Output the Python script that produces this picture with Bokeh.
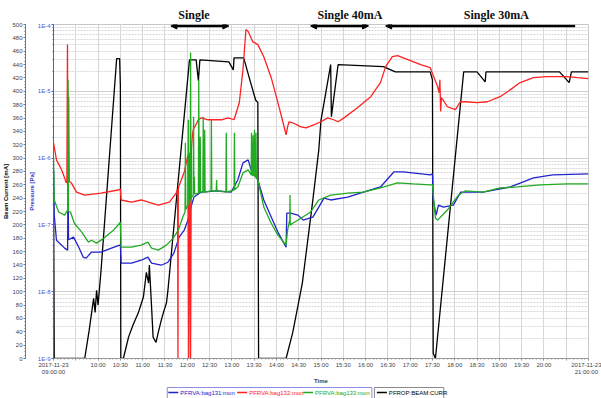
import calendar
from datetime import datetime, timedelta

from bokeh.plotting import figure
from bokeh.layouts import column
from bokeh.models import (LinearAxis, LinearScale, Range1d, FixedTicker, SingleIntervalTicker,
                          CustomJSTickFormatter, Arrow, NormalHead)
from bokeh.core.properties import value
from bokeh.embed import file_html
from bokeh.resources import INLINE

# ---- time window ----
T0 = datetime(2017, 11, 23, 9, 0, 0)
T1 = datetime(2017, 11, 23, 21, 0, 0)

# ---- PFRVA:bag131:mon  (minutes after 09:00, pressure in Pa) ----
bag131_min = [0, 1, 4, 15, 19, 19.6, 20.2, 27, 34, 40, 44, 51, 64, 78, 89, 90, 91, 105, 118, 127,
              132, 145, 154, 162, 169, 176, 181, 185, 189, 199, 221, 239, 248, 255, 262, 266, 275,
              283, 293, 302, 313, 314, 319, 329, 336, 349, 357, 364, 373, 396, 417, 440, 458, 471,
              507, 510, 511, 515, 518, 525, 538, 548, 578, 615, 646, 672, 720]
bag131_pa = [6.65e-7, 1.40e-7, 5.9e-8, 4.49e-8, 4.19e-8, 8.47e-7, 6.0e-8, 6.56e-8, 4.64e-8, 3.29e-8,
             3.18e-8, 3.91e-8, 3.91e-8, 4.49e-8, 4.98e-8, 4.98e-8, 2.67e-8, 2.67e-8, 2.96e-8, 3.29e-8,
             2.67e-8, 2.49e-8, 2.76e-8, 3.78e-8, 6.56e-8, 8.36e-8, 1.18e-7, 1.85e-7, 2.61e-7, 3.1e-7,
             3.22e-7, 3.1e-7, 4.71e-7, 8.47e-7, 9.4e-7, 6.65e-7, 4.71e-7, 2.36e-7, 1.31e-7, 7.8e-8,
             4.64e-8, 1.5e-7, 1.5e-7, 1.4e-7, 1.18e-7, 1.31e-7, 1.85e-7, 2.52e-7, 2.36e-7, 2.61e-7,
             3.1e-7, 3.7e-7, 6.2e-7, 6.2e-7, 5.6e-7, 5.8e-7, 2.36e-7, 1.40e-7, 1.98e-7, 1.85e-7,
             1.98e-7, 3.1e-7, 3.1e-7, 3.7e-7, 5.05e-7, 5.6e-7, 5.8e-7]

# ---- PFRVA:bag132:mon ----
bag132_min = [0, 1, 4, 11, 15, 17, 18, 18.8, 19.6, 20.4, 21.2, 24, 31, 42, 64, 87, 90, 91, 105, 118,
              132, 141, 156, 165, 167, 167.5, 168, 176, 181, 182, 183, 184.5, 185.5, 187, 188, 195,
              199, 208, 226, 235, 243, 250, 255, 259, 262, 268, 275, 283, 293, 302, 309, 313, 315,
              317, 322, 333, 340, 350, 360, 369, 377, 383, 391, 409, 427, 440, 447, 456, 463, 477,
              494, 507, 517, 519, 520, 521, 522, 524, 530, 541, 545, 548, 554, 570, 584, 601, 615,
              628, 646, 664, 691, 705, 720]
bag132_pa = [1.69e-6, 1.47e-6, 9.4e-7, 6.65e-7, 5.05e-7, 4.25e-7, 4.4e-7, 5.0e-5, 4.7e-7, 8.3e-6,
             4.5e-7, 4.25e-7, 3.1e-7, 2.8e-7, 3.0e-7, 3.33e-7, 3.45e-7, 2.36e-7, 2.2e-7, 2.36e-7,
             2.12e-7, 1.98e-7, 2.2e-7, 3.0e-7, 3.4e-7, 1e-9, 3.6e-7, 6.2e-7, 1.12e-6, 1e-9, 1.2e-6,
             1e-9, 1.33e-6, 2.23e-6, 2.65e-6, 3.75e-6, 4.0e-6, 3.75e-6, 3.75e-6, 4.0e-6, 3.75e-6,
             6.75e-6, 2.11e-5, 8.4e-5, 7.85e-5, 5.55e-5, 5.0e-5, 3.3e-5, 1.6e-5, 6.75e-6, 3.38e-6,
             2.23e-6, 2.94e-6, 3.5e-6, 3.38e-6, 2.94e-6, 2.84e-6, 3.15e-6, 3.5e-6, 4.0e-6, 3.75e-6,
             3.5e-6, 4.0e-6, 5.67e-6, 8.3e-6, 1.35e-5, 2.34e-5, 3.3e-5, 3.43e-5, 2.98e-5, 2.5e-5,
             2.26e-5, 1.17e-5, 9.5e-6, 1.49e-5, 5.0e-6, 8.0e-6, 7.5e-6, 5.87e-6, 5.3e-6, 6.3e-6,
             6.98e-6, 6.98e-6, 6.75e-6, 6.98e-6, 8.3e-6, 1.06e-5, 1.35e-5, 1.6e-5, 1.66e-5, 1.66e-5,
             1.6e-5, 1.55e-5]

# ---- PFRVA:bag133:mon ----
bag133_min = [0, 1, 7, 15, 19, 19.6, 20.2, 23, 28, 38, 47, 51, 58, 68, 81, 89, 90, 91, 105, 118, 127,
              132, 141, 152, 161, 168, 174, 177, 177.5, 178, 181, 181.5, 182, 184, 184.5, 185, 188,
              188.5, 189, 189.5, 190, 195, 195.5, 196, 197, 197.5, 198, 201, 201.5, 202, 203, 203.5,
              204, 212, 212.5, 213, 219, 219.5, 220, 232, 232.5, 233, 243, 243.5, 244, 248, 255, 262,
              266, 266.5, 267, 268, 268.5, 269, 270, 270.5, 271, 272, 272.5, 273, 275, 283, 293, 302,
              313, 315, 318, 318.3, 318.6, 322, 333, 346, 357, 373, 396, 417, 440, 463, 484, 507, 510,
              514, 517, 530, 545, 554, 578, 601, 624, 655, 691, 720]
bag133_pa = [1.04e-6, 2.36e-7, 1.56e-7, 1.40e-7, 1.67e-7, 1.49e-5, 1.6e-7, 1.55e-7, 1.06e-7, 7.8e-8,
             5.52e-8, 5.9e-8, 5.33e-8, 6.34e-8, 8.36e-8, 1.06e-7, 1.10e-7, 4.64e-8, 4.64e-8, 4.98e-8,
             5.52e-8, 4.49e-8, 4.19e-8, 4.98e-8, 6.34e-8, 8.36e-8, 1.31e-7, 1.56e-7, 1.69e-6, 1.7e-7,
             1.98e-7, 3.75e-6, 2.1e-7, 2.36e-7, 3.8e-5, 2.5e-7, 2.8e-7, 4.16e-6, 2.9e-7, 5.22e-7,
             2.9e-7, 3.0e-7, 1.49e-5, 3.0e-7, 3.1e-7, 2.08e-6, 3.1e-7, 3.1e-7, 4.16e-6, 3.1e-7, 3.1e-7,
             2.65e-6, 3.1e-7, 3.22e-7, 3.75e-6, 3.22e-7, 3.22e-7, 4.71e-7, 3.22e-7, 3.1e-7, 2.39e-6,
             3.1e-7, 3.33e-7, 2.39e-6, 3.4e-7, 3.7e-7, 6.0e-7, 6.65e-7, 5.6e-7, 2.39e-6, 5.6e-7,
             5.5e-7, 2.2e-6, 5.5e-7, 5.4e-7, 2.65e-6, 5.4e-7, 5.22e-7, 2.39e-6, 5.1e-7, 4.71e-7,
             1.85e-7, 1.06e-7, 7.03e-8, 4.98e-8, 8.36e-8, 1.2e-7, 2.8e-7, 9.9e-8, 1.06e-7, 1.26e-7,
             1.56e-7, 2.36e-7, 2.8e-7, 3.0e-7, 3.1e-7, 3.57e-7, 4.25e-7, 4.1e-7, 3.96e-7, 3.96e-7,
             1.26e-7, 1.18e-7, 1.67e-7, 2.8e-7, 3.22e-7, 3.1e-7, 3.57e-7, 3.7e-7, 3.96e-7, 4.1e-7,
             4.1e-7]

# ---- PFROP:BEAM:CURR (minutes after 09:00, mA) ----
beam_min = [0, 1, 42, 48, 54, 56, 58, 60, 64, 85, 89, 90, 90.6, 94, 101, 107, 114, 121, 125, 128,
            129, 132, 134, 138, 141, 145, 148, 152, 154, 183, 192, 195, 197, 236, 242, 243, 256, 263,
            272, 275, 276, 313, 322, 333, 335, 349, 357, 360, 366, 373, 374, 383, 444, 460, 507, 510,
            511, 514, 552, 570, 581, 582, 681, 694, 697, 720]
beam_ma = [282, 0, 0, 42, 90, 69, 102, 80, 132, 449, 449, 408, 0, 0, 32, 50, 68, 92, 129, 113,
           140, 77, 32, 24, 39, 57, 69, 83, 102, 447, 447, 416, 447, 444, 432, 450, 450, 422,
           387, 383, 0, 0, 39, 102, 114, 237, 312, 357, 395, 440, 362, 440, 437, 429, 429, 417,
           8, 0, 429, 429, 414, 429, 429, 413, 429, 429]

# ---- operation-mode notes above the plot ----
mode_names = ["Single", "Single 40mA", "Single 30mA"]
mode_label_min = [189, 399, 596]
mode_span_start_min = [158, 346, 447]
mode_span_end_min = [236, 424, 702]
mode_end_head = [True, True, False]

# ---- axis ticks ----
time_labels = (["2017-11-23\n09:00:00", ""]
               + ["10:00", "10:30", "11:00", "11:30", "12:00", "12:30", "13:00", "13:30", "14:00",
                  "14:30", "15:00", "15:30", "16:00", "16:30", "17:00", "17:30", "18:00", "18:30",
                  "19:00", "19:30", "20:00"]
               + ["", "2017-11-23\n21:00:00"])
pressure_decades = [1e-9, 1e-8, 1e-7, 1e-6, 1e-5, 1e-4]

# ---- legend entries ----
legend_names = ["PFRVA:bag131:mon", "PFRVA:bag132:mon", "PFRVA:bag133:mon", "PFROP:BEAM:CURR"]


def ms(dt):
    return calendar.timegm(dt.timetuple()) * 1000.0


def stamp(minutes):
    return [ms(T0 + timedelta(minutes=m)) for m in minutes]


BLUE = "#2222cc"
RED = "#ff2222"
GREEN = "#22aa22"
AXIS_BLUE = "#5555cc"
FONT = "Liberation Sans"
SERIF = "Liberation Serif"
W = 601
FRAME_L, FRAME_R = 52, 588

x_range = Range1d(ms(T0), ms(T1))

# ================= main chart =================
p = figure(width=W, height=364, x_axis_type="datetime", y_axis_type="log",
           x_range=x_range, y_range=Range1d(1e-9, 1e-4),
           output_backend="svg", toolbar_location=None,
           min_border_left=FRAME_L, min_border_right=W - FRAME_R, min_border_top=2,
           min_border_bottom=28,
           background_fill_color="white", border_fill_color="white",
           outline_line_color="#c8c8c8")
p.extra_y_ranges = {"mA": Range1d(0, 500)}
p.extra_y_scales = {"mA": LinearScale()}

r_beam = p.line(stamp(beam_min), beam_ma, y_range_name="mA", color="black", line_width=1.3)
r131 = p.line(stamp(bag131_min), bag131_pa, color=BLUE, line_width=1.3)
r132 = p.line(stamp(bag132_min), bag132_pa, color=RED, line_width=1.3)
r133 = p.line(stamp(bag133_min), bag133_pa, color=GREEN, line_width=1.3)

# time axis
x_ticks = [ms(T0 + timedelta(minutes=30 * i)) for i in range(25)]
x_minor = [ms(T0 + timedelta(minutes=5 * i)) for i in range(145)]
x_ticker = FixedTicker(ticks=x_ticks, minor_ticks=x_minor)
xa = p.xaxis[0]
xa.ticker = x_ticker
xa.formatter = CustomJSTickFormatter(
    args=dict(t0=ms(T0), labels=time_labels),
    code="const i = Math.round((tick - t0) / 1800000); const s = labels[i]; return s === undefined ? '' : s;")
xa.axis_label = "Time"
xa.axis_label_text_font = FONT
xa.axis_label_text_font_style = "bold"
xa.axis_label_text_font_size = "6px"
xa.axis_label_standoff = 0
xa.major_label_text_font = FONT
xa.major_label_text_font_size = "6px"
xa.major_label_text_color = "#444444"
xa.major_label_standoff = 1
xa.axis_line_color = "#999999"
xa.major_tick_line_color = "#888888"
xa.minor_tick_line_color = "#999999"
xa.major_tick_out = 2
xa.major_tick_in = 0
xa.minor_tick_out = 1
xa.minor_tick_in = 0

# pressure axis (log, next to the plot)
p_minor = [k * d for d in pressure_decades[:-1] for k in range(2, 10)]
p_ticker = FixedTicker(ticks=pressure_decades, minor_ticks=p_minor)
pa = p.yaxis[0]
pa.ticker = p_ticker
pa.formatter = CustomJSTickFormatter(code="return '1E' + Math.round(Math.log10(tick));")
pa.axis_label = "Pressure [Pa]"
pa.axis_label_text_font = FONT
pa.axis_label_text_font_style = "bold"
pa.axis_label_text_font_size = "6px"
pa.axis_label_text_color = "#3333cc"
pa.axis_label_standoff = 0
pa.major_label_text_font = FONT
pa.major_label_text_font_size = "6px"
pa.major_label_text_color = AXIS_BLUE
pa.major_label_standoff = 1
pa.axis_line_color = AXIS_BLUE
pa.major_tick_line_color = AXIS_BLUE
pa.minor_tick_line_color = AXIS_BLUE
pa.major_tick_out = 2
pa.major_tick_in = 0
pa.minor_tick_out = 1
pa.minor_tick_in = 0

# beam current axis (linear, outer left)
ca = LinearAxis(y_range_name="mA", ticker=SingleIntervalTicker(interval=20, num_minor_ticks=4),
                axis_label="Beam Current [mA]")
ca.axis_label_text_font = FONT
ca.axis_label_text_font_style = "bold"
ca.axis_label_text_font_size = "6px"
ca.axis_label_text_color = "black"
ca.axis_label_standoff = 0
ca.major_label_text_font = FONT
ca.major_label_text_font_size = "6px"
ca.major_label_text_color = "#444444"
ca.major_label_standoff = 1
ca.axis_line_color = "#777777"
ca.major_tick_line_color = "#777777"
ca.minor_tick_line_color = "#777777"
ca.major_tick_out = 2
ca.major_tick_in = 0
ca.minor_tick_out = 1
ca.minor_tick_in = 0
p.add_layout(ca, "left")

# grid
p.xgrid.ticker = x_ticker
p.xgrid.grid_line_color = "#d6d6d6"
p.ygrid.ticker = p_ticker
p.ygrid.grid_line_color = "#cfcfcf"
p.ygrid.minor_grid_line_color = "#d8d8d8"
p.ygrid.minor_grid_line_dash = "2 1"

# mode spans drawn along the top edge of the plot
for ta, tb, with_end in zip(stamp(mode_span_start_min), stamp(mode_span_end_min), mode_end_head):
    p.add_layout(Arrow(x_start=tb, x_end=ta, y_start=9.5e-5, y_end=9.5e-5,
                       line_width=2.5, line_color="black",
                       end=NormalHead(size=6, fill_color="black", line_color="black"),
                       start=NormalHead(size=6, fill_color="black", line_color="black") if with_end else None))

# ================= mode names strip =================
top = figure(width=W, height=22, x_range=x_range, y_range=Range1d(0, 22),
             x_axis_type=None, y_axis_type=None, output_backend="svg", toolbar_location=None,
             min_border_left=FRAME_L, min_border_right=W - FRAME_R, min_border_top=0,
             min_border_bottom=0, outline_line_color=None,
             background_fill_color="white", border_fill_color="white")
top.text(x=stamp(mode_label_min), y=[8] * len(mode_names), text=mode_names,
         text_align="center", text_baseline="middle", text_color="#111111",
         text_font=value(SERIF), text_font_style="bold", text_font_size=value("12px"))

# ================= legend strip (frame aligned with the chart, x in pixels) =================
leg = figure(width=W, height=12, x_range=Range1d(FRAME_L, FRAME_R), y_range=Range1d(0, 12),
             x_axis_type=None, y_axis_type=None, output_backend="svg", toolbar_location=None,
             min_border_left=FRAME_L, min_border_right=W - FRAME_R, min_border_top=0,
             min_border_bottom=0, outline_line_color=None,
             background_fill_color="white", border_fill_color="white")
leg_colors = [BLUE, RED, GREEN, "black"]
leg_x = [167, 236, 302, 376]
leg.quad(left=[166, 373.5], right=[371, 443], bottom=[-3, -3], top=[11, 11],
         fill_color=None, line_color=["#8c8ce0", "#8a8a8a"], line_width=1)
leg.segment(x0=leg_x, y0=[6] * 4, x1=[x + 10 for x in leg_x], y1=[6] * 4,
            line_color=leg_colors, line_width=1.3)
leg.text(x=[x + 12 for x in leg_x], y=[6] * 4, text=legend_names, text_color=leg_colors,
         text_baseline="middle", text_align="left",
         text_font=value(FONT), text_font_size=value("6px"))

layout = column(top, p, leg, spacing=0)
open("out.html", "w").write(file_html(layout, INLINE))
